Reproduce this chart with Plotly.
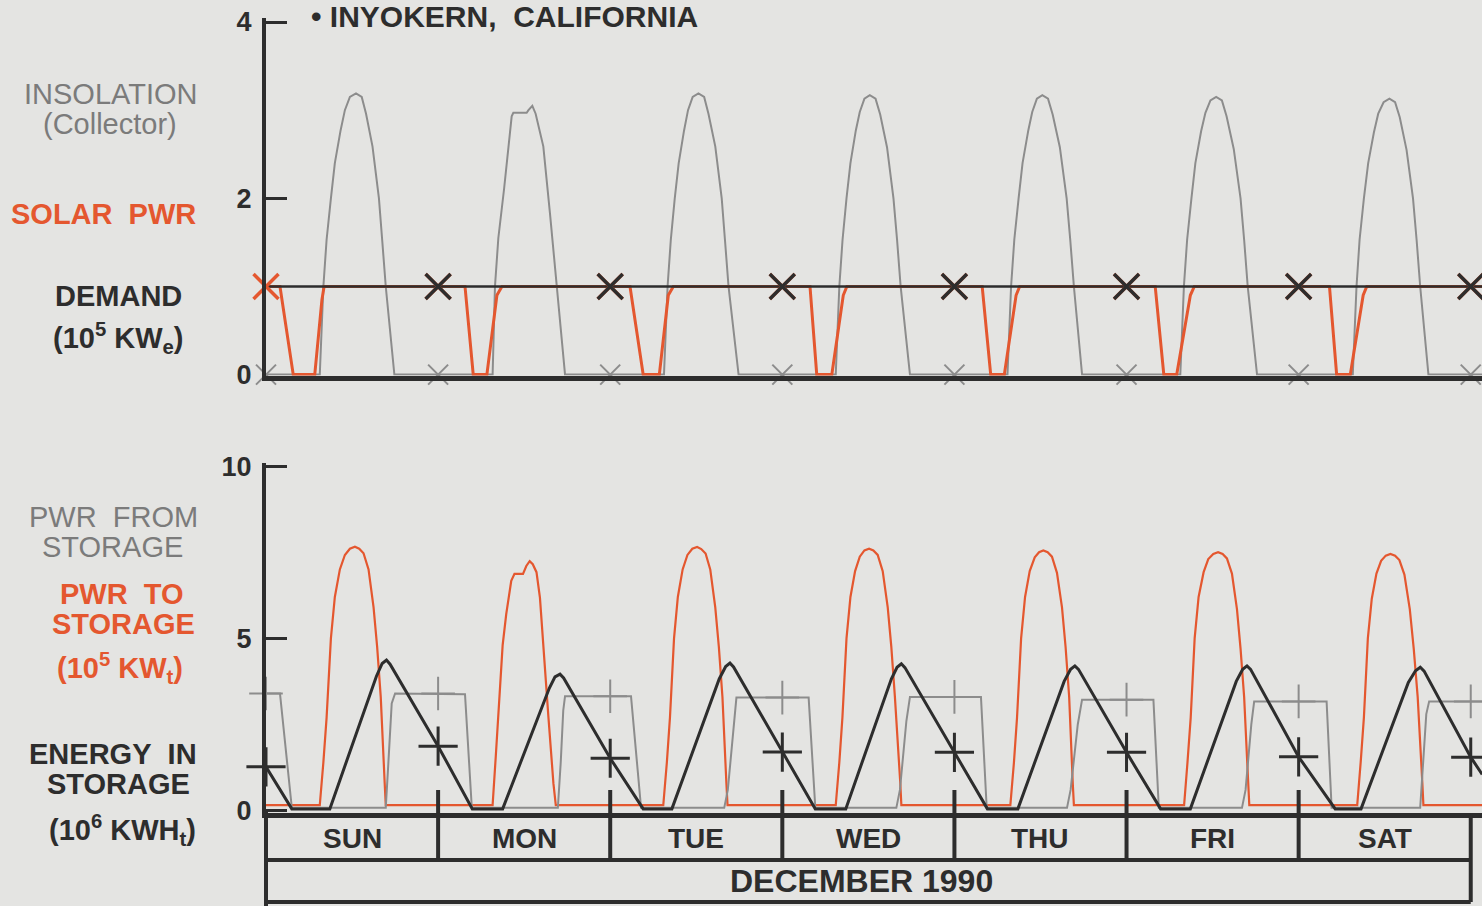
import plotly.graph_objects as go

W, H = 1482, 906

# ---------------- data (hours from Sunday 00:00) ----------------
day_labels = ["SUN", "MON", "TUE", "WED", "THU", "FRI", "SAT"]
month_label = "DECEMBER 1990"
title_text = "\u2022\u00a0INYOKERN,\u00a0\u00a0CALIFORNIA"
top_ticks = [0, 2, 4]
bottom_ticks = [0, 5, 10]
midnights = [0, 24, 48, 72, 96, 120, 144, 168]

# Insolation on collector (10^5 KW)
insolation_hours = [
    0, 7.5, 8.0, 8.45, 9.05, 9.6, 10.4, 11.0, 11.7, 12.55, 13.35, 13.95, 14.85, 15.75, 16.2, 16.7, 17.9,
    24, 31.6, 31.93, 32.4, 33.19, 33.79, 34.26, 34.49, 36.35, 36.6, 37.14, 37.6, 38.67, 39.6, 40.54, 41.7,
    48, 55.5, 56.0, 56.45, 57.0, 57.55, 58.3, 58.85, 59.5, 60.3, 61.1, 61.7, 62.65, 63.55, 64.0, 64.5, 65.9,
    72, 79.45, 79.95, 80.4, 80.95, 81.5, 82.25, 82.8, 83.45, 84.2, 85.0, 85.65, 86.6, 87.5, 88.0, 88.5, 89.8,
    96, 103.4, 103.9, 104.35, 104.95, 105.5, 106.3, 106.85, 107.5, 108.26, 109.05, 109.7, 110.7, 111.65, 112.15, 112.66, 113.8,
    120, 127.5, 128.0, 128.45, 129.05, 129.6, 130.4, 131.0, 131.7, 132.5, 133.3, 133.95, 134.95, 135.9, 136.4, 136.9, 138.2,
    144, 151.55, 152.07, 152.5, 153.1, 153.7, 154.5, 155.1, 155.85, 156.66, 157.45, 158.1, 159.05, 159.95, 160.45, 160.95, 162.1,
    168, 169.6]
insolation_values = [
    0, 0, 1.0, 1.53, 2.0, 2.4, 2.77, 3.0, 3.15, 3.19, 3.15, 2.96, 2.59, 2.0, 1.53, 1.0, 0,
    0, 0, 1.0, 1.55, 2.1, 2.59, 2.93, 2.97, 2.97, 3.0, 3.05, 2.96, 2.59, 1.83, 1.0, 0,
    0, 0, 1.0, 1.53, 2.0, 2.4, 2.77, 3.0, 3.15, 3.19, 3.15, 2.96, 2.59, 2.0, 1.53, 1.0, 0,
    0, 0, 1.0, 1.53, 2.0, 2.4, 2.77, 2.98, 3.13, 3.17, 3.13, 2.95, 2.58, 2.0, 1.53, 1.0, 0,
    0, 0, 1.0, 1.53, 2.0, 2.4, 2.77, 2.98, 3.13, 3.17, 3.13, 2.95, 2.58, 2.0, 1.53, 1.0, 0,
    0, 0, 1.0, 1.53, 2.0, 2.4, 2.76, 2.97, 3.11, 3.15, 3.11, 2.93, 2.56, 2.0, 1.53, 1.0, 0,
    0, 0, 1.0, 1.53, 2.0, 2.4, 2.75, 2.96, 3.09, 3.13, 3.09, 2.92, 2.55, 2.0, 1.53, 1.0, 0,
    0, 0]

# Solar (electric) power (10^5 KWe)
solar_hours = [
    0, 1.95, 3.8, 6.8, 7.8, 8.1,
    24, 27.75, 28.9, 30.8, 32.2, 32.9,
    48, 50.76, 52.6, 54.85, 56.1, 56.8,
    72, 75.86, 76.8, 78.9, 80.5, 81.0,
    96, 99.87, 101.06, 102.96, 104.6, 105.1,
    120, 124.0, 125.2, 127.0, 128.9, 129.45,
    144, 148.3, 149.3, 151.2, 153.0, 153.5,
    168, 169.6]
solar_values = [
    1.0, 1.0, 0, 0, 0.85, 1.0,
    1.0, 1.0, 0, 0, 0.9, 1.0,
    1.0, 1.0, 0, 0, 0.9, 1.0,
    1.0, 1.0, 0, 0, 0.9, 1.0,
    1.0, 1.0, 0, 0, 0.9, 1.0,
    1.0, 1.0, 0, 0, 0.9, 1.0,
    1.0, 1.0, 0, 0, 0.9, 1.0,
    1.0, 1.0]

# Demand (10^5 KWe)
demand_hours = [0, 24, 48, 72, 96, 120, 144, 168, 169.6]
demand_values = [1.0, 1.0, 1.0, 1.0, 1.0, 1.0, 1.0, 1.0, 1.0]

# Power to storage (10^5 KWt)
to_storage_hours = [
    0, 7.5, 8.0, 8.45, 9.05, 9.6, 10.3, 11.0, 11.7, 12.4, 13.0, 13.6, 14.3, 15.0, 15.5, 16.0, 16.55, 16.7,
    24, 31.6, 32.05, 32.5, 33.0, 33.5, 34.2, 34.65, 35.84, 36.3, 36.77, 37.2, 37.72, 38.2, 38.67, 39.37, 40.08, 40.41,
    48, 55.4, 55.9, 56.33, 56.9, 57.43, 58.1, 58.77, 59.45, 60.12, 60.7, 61.3, 61.95, 62.65, 63.15, 63.65, 64.2, 64.36,
    72, 79.45, 79.95, 80.38, 80.95, 81.5, 82.15, 82.8, 83.45, 84.1, 84.7, 85.3, 86.0, 86.7, 87.2, 87.7, 88.45, 88.6,
    96, 103.8, 104.3, 104.73, 105.3, 105.85, 106.5, 107.2, 107.8, 108.4, 109.0, 109.6, 110.3, 111.0, 111.5, 112.0, 112.5, 112.66,
    120, 128.03, 128.5, 128.95, 129.5, 130.05, 130.75, 131.4, 132.1, 132.77, 133.4, 134.0, 134.7, 135.4, 135.9, 136.4, 136.97, 137.12,
    144, 152.17, 152.65, 153.1, 153.65, 154.2, 154.85, 155.5, 156.15, 156.8, 157.45, 158.05, 158.75, 159.5, 160.05, 160.6, 161.25, 161.4,
    168, 169.6]
to_storage_values = [
    0.16, 0.16, 1.4, 2.7, 5.0, 6.2, 7.0, 7.42, 7.6, 7.66, 7.6, 7.47, 7.0, 5.9, 4.75, 3.3, 0.8, 0.16,
    0.16, 0.16, 1.6, 3.2, 4.8, 5.7, 6.67, 6.87, 6.87, 7.1, 7.24, 7.15, 6.92, 6.18, 4.71, 2.75, 0.79, 0.16,
    0.16, 0.16, 1.4, 2.7, 5.0, 6.2, 7.0, 7.42, 7.6, 7.65, 7.59, 7.46, 7.0, 5.9, 4.75, 3.3, 0.8, 0.16,
    0.16, 0.16, 1.4, 2.7, 5.0, 6.2, 6.95, 7.37, 7.55, 7.6, 7.55, 7.42, 6.95, 5.9, 4.75, 3.3, 0.8, 0.16,
    0.16, 0.16, 1.4, 2.7, 5.0, 6.2, 6.95, 7.35, 7.5, 7.55, 7.5, 7.37, 6.9, 5.9, 4.75, 3.3, 0.8, 0.16,
    0.16, 0.16, 1.4, 2.7, 5.0, 6.2, 6.92, 7.3, 7.45, 7.5, 7.45, 7.32, 6.88, 5.85, 4.7, 3.3, 0.8, 0.16,
    0.16, 0.16, 1.4, 2.7, 5.0, 6.15, 6.88, 7.25, 7.4, 7.45, 7.4, 7.27, 6.85, 5.85, 4.7, 3.3, 0.8, 0.16,
    0.16, 0.16]

# Power from storage (10^5 KWt)
from_storage_hours = [
    0, 1.95, 3.6, 16.7, 17.06, 17.53, 18.0,
    24, 27.75, 28.7, 40.7, 41.1, 41.45, 41.7,
    48, 50.9, 52.3, 63.9, 64.4, 65.2, 65.6,
    72, 75.67, 76.6, 87.9, 88.4, 89.3, 89.8,
    96, 99.7, 100.5, 111.7, 112.2, 113.2, 113.8,
    120, 123.75, 124.5, 136.1, 136.6, 137.4, 137.8,
    144, 147.9, 148.6, 160.95, 161.3, 161.8, 162.2,
    168, 169.6]
from_storage_values = [
    3.4, 3.4, 0.08, 0.08, 1.37, 3.11, 3.4,
    3.4, 3.38, 0.08, 0.08, 1.4, 2.9, 3.32,
    3.32, 3.32, 0.08, 0.08, 0.6, 2.5, 3.28,
    3.28, 3.28, 0.08, 0.08, 0.6, 2.6, 3.3,
    3.3, 3.3, 0.08, 0.08, 0.6, 2.5, 3.22,
    3.22, 3.22, 0.08, 0.08, 0.6, 2.5, 3.17,
    3.17, 3.17, 0.08, 0.08, 1.2, 2.8, 3.17,
    3.17, 3.17]

# Energy in storage (10^6 KWHt)
energy_hours = [
    0, 3.6, 8.9, 15.4, 16.2, 16.8, 17.3,
    24, 28.77, 33.0, 39.5, 40.3, 41.0, 41.5,
    48, 52.6, 56.6, 63.2, 64.1, 64.7, 65.2,
    72, 76.6, 80.85, 87.2, 88.0, 88.6, 89.1,
    96, 100.6, 104.85, 111.3, 112.2, 112.8, 113.3,
    120, 124.75, 128.9, 135.3, 136.2, 136.8, 137.3,
    144, 149.1, 152.7, 159.3, 160.3, 160.96, 161.5,
    168, 169.6]
energy_values = [
    1.27, 0.05, 0.05, 3.9, 4.27, 4.37, 4.25,
    1.87, 0.05, 0.05, 3.55, 3.88, 3.96, 3.85,
    1.52, 0.05, 0.05, 3.82, 4.18, 4.28, 4.17,
    1.70, 0.05, 0.05, 3.82, 4.16, 4.26, 4.15,
    1.69, 0.05, 0.05, 3.75, 4.1, 4.2, 4.1,
    1.69, 0.05, 0.05, 3.75, 4.1, 4.2, 4.1,
    1.56, 0.05, 0.05, 3.72, 4.06, 4.16, 4.05,
    1.55, 1.05]

# ---------------- styling ----------------
BG = "#e4e4e2"
DARK = "#2d2d2d"
GRAY = "#8c8c8c"
GRAYTXT = "#7b7b7b"
RED = "#e4572f"
FONT = "Liberation Sans, Arial, Helvetica, sans-serif"

X_END = 169.57


def px_x(px):
    return px / W


def px_y(py):
    return 1 - py / H


def at_midnight(hours, values):
    hs, vs = [], []
    for h, v in zip(hours, values):
        if h in midnights:
            hs.append(h)
            vs.append(v)
    return hs, vs


fig = go.Figure()

# ---- top panel ----
fig.add_trace(go.Scatter(x=insolation_hours, y=insolation_values, mode="lines",
                         line=dict(color=GRAY, width=2), xaxis="x", yaxis="y"))
fig.add_trace(go.Scatter(x=solar_hours, y=solar_values, mode="lines",
                         line=dict(color=RED, width=3), xaxis="x", yaxis="y"))
fig.add_trace(go.Scatter(x=demand_hours, y=demand_values, mode="lines",
                         line=dict(color=DARK, width=2.4), xaxis="x", yaxis="y"))
mh, mv = at_midnight(insolation_hours, insolation_values)
fig.add_trace(go.Scatter(x=mh, y=mv, mode="markers", xaxis="x", yaxis="y", cliponaxis=False,
                         marker=dict(symbol="x-thin", size=20, line=dict(color=GRAY, width=2))))
mh, mv = at_midnight(solar_hours, solar_values)
fig.add_trace(go.Scatter(x=mh, y=mv, mode="markers", xaxis="x", yaxis="y", cliponaxis=False,
                         marker=dict(symbol="x-thin", size=25, line=dict(color=RED, width=3.5))))
mh, mv = at_midnight(demand_hours, demand_values)
fig.add_trace(go.Scatter(x=mh[1:], y=mv[1:], mode="markers", xaxis="x", yaxis="y", cliponaxis=False,
                         marker=dict(symbol="x-thin", size=25, line=dict(color=DARK, width=3.4))))

# ---- bottom panel ----
fig.add_trace(go.Scatter(x=to_storage_hours, y=to_storage_values, mode="lines",
                         line=dict(color=RED, width=2.2), xaxis="x2", yaxis="y2"))
fig.add_trace(go.Scatter(x=from_storage_hours, y=from_storage_values, mode="lines",
                         line=dict(color=GRAY, width=2), xaxis="x2", yaxis="y2"))
fig.add_trace(go.Scatter(x=energy_hours, y=energy_values, mode="lines",
                         line=dict(color=DARK, width=3), xaxis="x2", yaxis="y2"))
mh, mv = at_midnight(from_storage_hours, from_storage_values)
fig.add_trace(go.Scatter(x=mh, y=mv, mode="markers", xaxis="x2", yaxis="y2", cliponaxis=False,
                         marker=dict(symbol="cross-thin", size=24, line=dict(color=GRAY, width=2))))
mh, mv = at_midnight(energy_hours, energy_values)
fig.add_trace(go.Scatter(x=mh, y=mv, mode="markers", xaxis="x2", yaxis="y2", cliponaxis=False,
                         marker=dict(symbol="cross-thin", size=28, line=dict(color=DARK, width=3))))

tickfont = dict(family=FONT, size=27, color=DARK, weight="bold")
xdom = [px_x(266), 1]

fig.update_layout(
    width=W, height=H,
    margin=dict(l=0, r=0, t=0, b=0, pad=0, autoexpand=False),
    paper_bgcolor=BG, plot_bgcolor=BG,
    showlegend=False,
    xaxis=dict(domain=xdom, range=[0, X_END], showgrid=False, zeroline=False,
               showticklabels=False, ticks="", showline=True, linewidth=5, linecolor=DARK,
               anchor="y", automargin=False),
    yaxis=dict(domain=[px_y(375.5), px_y(17.6)], range=[-0.01, 4.05], showgrid=False,
               zeroline=False, tickvals=top_ticks, ticktext=[str(t) for t in top_ticks],
               ticks="inside", ticklen=21, tickwidth=2.5, tickcolor=DARK,
               showline=True, linewidth=4, linecolor=DARK, tickfont=tickfont,
               ticklabelstandoff=5, anchor="x", automargin=False),
    xaxis2=dict(domain=xdom, range=[0, X_END], showgrid=False, zeroline=False,
                showticklabels=False, ticks="", showline=True, linewidth=5, linecolor=DARK,
                anchor="y2", automargin=False),
    yaxis2=dict(domain=[px_y(812.5), px_y(462.6)], range=[-0.055, 10.1], showgrid=False,
                zeroline=False, tickvals=bottom_ticks, ticktext=[str(t) for t in bottom_ticks],
                ticks="inside", ticklen=21, tickwidth=2.5, tickcolor=DARK,
                showline=True, linewidth=4, linecolor=DARK, tickfont=tickfont,
                ticklabelstandoff=5, anchor="x2", automargin=False),
)

# ---- day / month box below the lower panel ----
shapes = []
line_style = dict(color=DARK, width=4)
for yy in (860, 902):
    shapes.append(dict(type="line", xref="x2", yref="paper", x0=0, x1=168,
                       y0=px_y(yy), y1=px_y(yy), line=line_style))
for h in midnights[1:-1]:
    shapes.append(dict(type="line", xref="x2", yref="paper", x0=h, x1=h,
                       y0=px_y(790), y1=px_y(860), line=line_style))
shapes.append(dict(type="line", xref="x2", yref="paper", x0=168, x1=168,
                   y0=px_y(815), y1=px_y(902), line=line_style))
shapes.append(dict(type="line", xref="paper", yref="paper", x0=px_x(266), x1=px_x(266),
                   y0=px_y(812), y1=0, line=line_style))
fig.update_layout(shapes=shapes)

ann = []
for i, lab in enumerate(day_labels):
    ann.append(dict(text="<b>%s</b>" % lab, xref="x2", yref="paper", x=24 * i + 12, y=px_y(838),
                    showarrow=False, xanchor="center", yanchor="middle",
                    font=dict(family=FONT, size=28, color=DARK)))
ann.append(dict(text="<b>%s</b>" % month_label, xref="paper", yref="paper", x=px_x(861), y=px_y(881),
                showarrow=False, xanchor="center", yanchor="middle",
                font=dict(family=FONT, size=32, color=DARK)))
ann.append(dict(text="<b>%s</b>" % title_text, xref="paper", yref="paper", x=px_x(309), y=px_y(17),
                showarrow=False, xanchor="left", yanchor="middle",
                font=dict(family=FONT, size=30, color=DARK)))

left_labels = [
    ("INSOLATION", 111, 94, GRAYTXT, False),
    ("(Collector)", 110, 124, GRAYTXT, False),
    ("SOLAR\u00a0\u00a0PWR", 103, 214, RED, True),
    ("DEMAND", 119, 296, DARK, True),
    ("(10<sup>5</sup> KW<sub>e</sub>)", 119, 338, DARK, True),
    ("PWR\u00a0\u00a0FROM", 113, 517, GRAYTXT, False),
    ("STORAGE", 112, 547, GRAYTXT, False),
    ("PWR\u00a0\u00a0TO", 122, 594, RED, True),
    ("STORAGE", 123, 624, RED, True),
    ("(10<sup>5</sup> KW<sub>t</sub>)", 120, 668, RED, True),
    ("ENERGY\u00a0\u00a0IN", 113, 754, DARK, True),
    ("STORAGE", 119, 784, DARK, True),
    ("(10<sup>6</sup> KWH<sub>t</sub>)", 122, 830, DARK, True),
]
for txt, cx, cy, col, bold in left_labels:
    ann.append(dict(text=("<b>%s</b>" % txt) if bold else txt, xref="paper", yref="paper",
                    x=px_x(cx), y=px_y(cy), showarrow=False, xanchor="center", yanchor="middle",
                    font=dict(family=FONT, size=29, color=col)))
fig.update_layout(annotations=ann)

fig.write_html("out.html", config={"displayModeBar": False},
               post_script="document.body.style.margin='0';document.body.style.overflow='hidden';")
